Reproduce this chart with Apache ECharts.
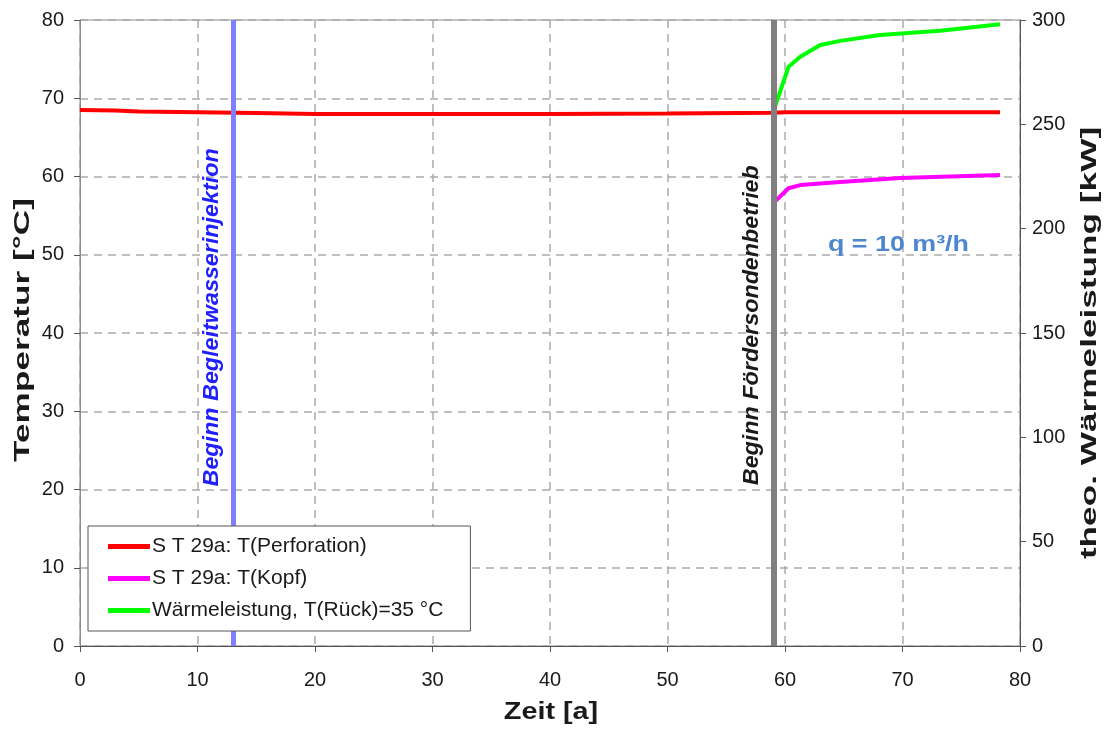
<!DOCTYPE html>
<html>
<head>
<meta charset="utf-8">
<title>ST 29a</title>
<script src="https://cdn.jsdelivr.net/npm/echarts@6/dist/echarts.min.js"></script>
<style>
  html, body { margin: 0; padding: 0; background: #fff; }
  #chart { width: 1109px; height: 729px; }
</style>
</head>
<body>
<div id="chart"></div>
<script>
// Zeit [a]
var perfYears = [0, 3, 5, 10, 15, 20, 30, 40, 50, 59, 60, 70, 78.3];
var perfTemp = [68.5, 68.45, 68.3, 68.2, 68.1, 68.0, 68.0, 68.0, 68.05, 68.15, 68.2, 68.2, 68.2];

var kopfYears = [59, 60.3, 61.3, 64.7, 69.8, 78.3];
var kopfTemp = [56.6, 58.5, 58.9, 59.3, 59.8, 60.2];

var powerYears = [59, 60.3, 61.3, 63.0, 64.7, 68.1, 73.2, 78.3];
var powerKW = [256, 277.6, 282.4, 288, 290, 292.8, 294.8, 298];

var injectionYear = 13;
var productionYear = 59;

var xTicks = [0, 80, 10];
var tempTicks = [0, 80, 10];
var kwTicks = [0, 300, 50];

function pairs(xs, ys) {
    var out = [];
    for (var i = 0; i < xs.length; i++) {
        out.push([xs[i], ys[i]]);
    }
    return out;
}

var myChart = echarts.init(document.getElementById('chart'));
var font = 'Liberation Sans, Arial, sans-serif';
var dashed = { show: true, lineStyle: { color: '#aaaaaa', type: [8, 6], width: 1.5 } };

// Achsentitel (etwas breit gezogen wie im Original)
function title(text, x, y, rot, sx, size) {
    return {
        type: 'text',
        x: x, y: y,
        rotation: rot,
        scaleX: sx,
        z: 20,
        style: {
            text: text,
            font: 'bold ' + size + 'px Liberation Sans, Arial, sans-serif',
            fill: '#1a1a1a',
            align: 'center',
            verticalAlign: 'middle'
        }
    };
}

function vline(name, year, color, width, z) {
    return {
        name: name,
        type: 'line',
        data: [],
        z: z,
        markLine: {
            silent: true,
            symbol: 'none',
            label: { show: false },
            lineStyle: { color: color, width: width, type: 'solid' },
            data: [{ xAxis: year }]
        }
    };
}

var option = {
    animation: false,
    textStyle: { fontFamily: font },
    grid: {
        left: 80, right: 89, top: 20, bottom: 83,
        show: true, borderColor: '#8c8c8c', borderWidth: 1
    },
    legend: {
        orient: 'vertical',
        left: 88, top: 526,
        z: 20,
        padding: [10, 27, 10, 20],
        itemGap: 11,
        itemWidth: 42, itemHeight: 5,
        icon: 'rect',
        backgroundColor: '#fff',
        borderColor: '#555', borderWidth: 1,
        textStyle: { fontSize: 21, color: '#1a1a1a', fontFamily: font, padding: [0, 0, 0, -3] },
        data: ['S T 29a: T(Perforation)', 'S T 29a: T(Kopf)', 'Wärmeleistung, T(Rück)=35 °C']
    },
    xAxis: {
        type: 'value',
        min: xTicks[0], max: xTicks[1], interval: xTicks[2],
        axisLine: { lineStyle: { color: '#555' } },
        axisTick: { show: true, length: 6, lineStyle: { color: '#555' } },
        axisLabel: { fontSize: 20, color: '#1a1a1a', margin: 24 },
        splitLine: dashed
    },
    yAxis: [{
        type: 'value',
        min: tempTicks[0], max: tempTicks[1], interval: tempTicks[2],
        axisLine: { show: true, lineStyle: { color: '#8c8c8c' } },
        axisTick: { show: true, length: 6, lineStyle: { color: '#555' } },
        axisLabel: { fontSize: 20, color: '#1a1a1a', margin: 16 },
        splitLine: dashed
    }, {
        type: 'value',
        min: kwTicks[0], max: kwTicks[1], interval: kwTicks[2],
        position: 'right',
        axisLine: { show: true, lineStyle: { color: '#555' } },
        axisTick: { show: true, length: 6, lineStyle: { color: '#555' } },
        axisLabel: { fontSize: 20, color: '#1a1a1a', margin: 12 },
        splitLine: { show: false }
    }],
    series: [{
        name: 'S T 29a: T(Perforation)',
        type: 'line',
        data: pairs(perfYears, perfTemp),
        showSymbol: false,
        color: '#ff0000',
        lineStyle: { width: 4 },
        z: 3
    }, {
        name: 'S T 29a: T(Kopf)',
        type: 'line',
        data: pairs(kopfYears, kopfTemp),
        showSymbol: false,
        color: '#ff00ff',
        lineStyle: { width: 4 },
        z: 3
    }, {
        name: 'Wärmeleistung, T(Rück)=35 °C',
        type: 'line',
        yAxisIndex: 1,
        data: pairs(powerYears, powerKW),
        showSymbol: false,
        color: '#00ff00',
        lineStyle: { width: 4 },
        z: 3
    },
        vline('Beginn Begleitwasserinjektion', injectionYear, '#8080ff', 5, 4),
        vline('Beginn Fördersondenbetrieb', productionYear, '#808080', 6, 2)
    ]
};

myChart.setOption(option);

// Beschriftung der senkrechten Linien, links neben der Linie
function lineText(text, year, temp, color) {
    var p = myChart.convertToPixel({ xAxisIndex: 0, yAxisIndex: 0 }, [year, temp]);
    return {
        type: 'text',
        x: p[0] - 21, y: p[1],
        rotation: Math.PI / 2,
        scaleX: 1.06,
        z: 10,
        style: {
            text: text,
            font: 'italic bold 22px Liberation Sans, Arial, sans-serif',
            fill: color,
            align: 'center',
            verticalAlign: 'middle'
        }
    };
}

myChart.setOption({
    graphic: [
        title('Temperatur [°C]', 23, 330, Math.PI / 2, 1.6, 22),
        title('theo. Wärmeleistung [kW]', 1090, 343, Math.PI / 2, 1.6, 22),
        title('Zeit [a]', 551, 712, 0, 1.2, 24),
        lineText('Beginn Begleitwasserinjektion', injectionYear, 42, '#2020ff'),
        lineText('Beginn Fördersondenbetrieb', productionYear, 41, '#1a1a1a'),
        {
            type: 'text',
            x: 828, y: 234,
            scaleX: 1.22,
            style: {
                text: 'q = 10 m³/h',
                font: 'bold 22px Liberation Sans, Arial, sans-serif',
                fill: '#4f86d0'
            }
        }
    ]
});
</script>
</body>
</html>
